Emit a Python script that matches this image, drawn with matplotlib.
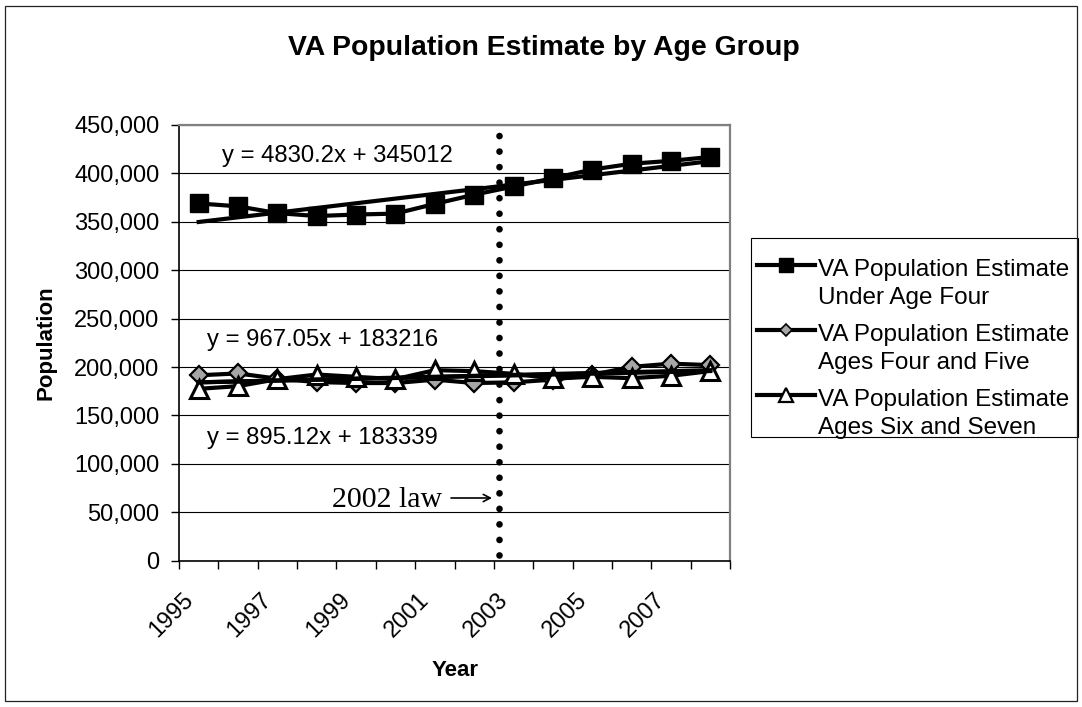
import numpy as np
import matplotlib.pyplot as plt
from matplotlib.lines import Line2D
from matplotlib.patches import Rectangle, FancyArrowPatch
from matplotlib.ticker import FuncFormatter
import matplotlib.transforms as mtransforms

plt.rcParams['font.family'] = ['Liberation Sans', 'DejaVu Sans']

years = list(range(1995, 2009))
under_four = [369000, 366000, 359000, 356000, 357500, 358500, 368500,
              378000, 386500, 395000, 404000, 410000, 413000, 417000]
four_five = [191500, 193400, 188000, 184500, 183500, 183500, 187000,
             183500, 184200, 187000, 192000, 200200, 203500, 202000]
six_seven = [177500, 180300, 187500, 192300, 189900, 187500, 196800,
             195800, 193000, 188200, 189900, 188500, 191000, 195800]

series_labels = [["VA Population Estimate", "Under Age Four"],
                 ["VA Population Estimate", "Ages Four and Five"],
                 ["VA Population Estimate", "Ages Six and Seven"]]

# linear trend coefficients as printed on the chart (x = 1..14)
trend_coefs = [(4830.2, 345012), (967.05, 183216), (895.12, 183339)]
trend_texts = ["y = 4830.2x + 345012", "y = 967.05x + 183216", "y = 895.12x + 183339"]
law_year = 2002.63

W, H = 1082, 707
def fx(px):
    return px / W
def fy(py):
    return 1 - py / H

fig = plt.figure(figsize=(W / 100, H / 100), dpi=100)
ax = fig.add_axes([fx(179), fy(560.7), fx(730) - fx(179), fy(125) - fy(560.7)])

ax.set_xlim(1994.5, 2008.5)
ax.set_ylim(0, 450000)
ax.set_yticks(np.arange(0, 450001, 50000))
ax.yaxis.set_major_formatter(FuncFormatter(lambda v, p: f"{int(v):,}"))
ax.grid(axis='y', color='black', lw=0.8)
ax.set_axisbelow(True)

LW = 3.0
# series
ax.plot(years, under_four, color='black', lw=LW, marker='s', ms=13.5,
        mfc='black', mec='black', zorder=3)
ax.plot(years, four_five, color='black', lw=LW, marker='D', ms=9,
        mfc='#a6a6a6', mec='black', mew=1.6, zorder=3)
ax.plot(years, six_seven, color='black', lw=LW, marker='^', ms=13,
        mfc='white', mec='black', mew=2.2, zorder=3)

# trend lines
idx = np.arange(1, len(years) + 1)
for a, b in trend_coefs:
    ax.plot(years, a * idx + b, color='black', lw=LW, zorder=5)

# dotted law line
ax.axvline(law_year, ymin=0.013, ymax=1.006, clip_on=False, color='black',
           lw=4.8, linestyle=(0, (0.01, 2.32)), dash_capstyle='round', zorder=6)

# axes styling
for s in ['top', 'right']:
    ax.spines[s].set_color('#808080')
    ax.spines[s].set_linewidth(1.6)
for s in ['left', 'bottom']:
    ax.spines[s].set_color('black')
    ax.spines[s].set_linewidth(1.2)

ax.set_xticks(years[::2])
ax.set_xticklabels([str(y) for y in years[::2]])
ax.set_xticks(np.arange(1994.5, 2009, 1), minor=True)
ax.tick_params(axis='x', which='major', length=0, pad=20, labelsize=17)
ax.tick_params(axis='x', which='minor', length=5.5, width=1, direction='out')
ax.tick_params(axis='y', length=6, width=1, pad=8, labelsize=17)
offset = mtransforms.ScaledTranslation(-0.01, 0, fig.dpi_scale_trans)
for lab in ax.get_xticklabels():
    lab.set_rotation(45)
    lab.set_ha('right')
    lab.set_transform(lab.get_transform() + offset)

# texts
fig.text(fx(544), fy(55), "VA Population Estimate by Age Group", ha='center',
         va='baseline', fontsize=20.4, fontweight='bold')
fig.text(fx(46), fy(343), "Population", rotation=90, ha='center', va='center',
         fontsize=16, fontweight='bold')
fig.text(fx(455), fy(676), "Year", ha='center', va='baseline',
         fontsize=16, fontweight='bold')
fig.text(fx(221.7), fy(161.7), trend_texts[0], fontsize=17.2, va='baseline')
fig.text(fx(207), fy(346), trend_texts[1], fontsize=17.2, va='baseline')
fig.text(fx(207), fy(444), trend_texts[2], fontsize=17.2, va='baseline')
fig.text(fx(331.7), fy(506.7), "2002 law", fontsize=21.5, va='baseline',
         family=['Liberation Serif', 'DejaVu Serif'])
fig.add_artist(FancyArrowPatch((fx(451), fy(498)), (fx(492), fy(498)),
                               transform=fig.transFigure, arrowstyle='->,head_length=5,head_width=2.6',
                               lw=1.2, color='black', shrinkA=0, shrinkB=0))

# legend (drawn by hand so the marker sits on the first text line)
fig.add_artist(Rectangle((fx(751), fy(437.3)), fx(1078) - fx(751), fy(238) - fy(437.3),
                         transform=fig.transFigure, fill=False, ec='black', lw=0.8))
leg_markers = [dict(marker='s', ms=9.5, mfc='black', mec='black'),
               dict(marker='D', ms=6.5, mfc='#a6a6a6', mec='black', mew=1.2),
               dict(marker='^', ms=9.5, mfc='white', mec='black', mew=1.6)]
for k, (lines, mk) in enumerate(zip(series_labels, leg_markers)):
    yl = 265 + 65 * k
    fig.add_artist(Line2D([fx(757), fx(815)], [fy(yl), fy(yl)], transform=fig.transFigure,
                          color='black', lw=LW))
    fig.add_artist(Line2D([fx(786)], [fy(yl)], transform=fig.transFigure, **mk))
    for j, t in enumerate(lines):
        fig.text(fx(818), fy(yl + 11 + 28.3 * j), t, fontsize=17.5, va='baseline')

# chart border
fig.add_artist(Rectangle((fx(5.3), fy(701)), fx(1077) - fx(5.3), fy(6) - fy(701),
                         transform=fig.transFigure, fill=False, ec='#222222', lw=0.9))

fig.savefig('out.png', dpi=100)
